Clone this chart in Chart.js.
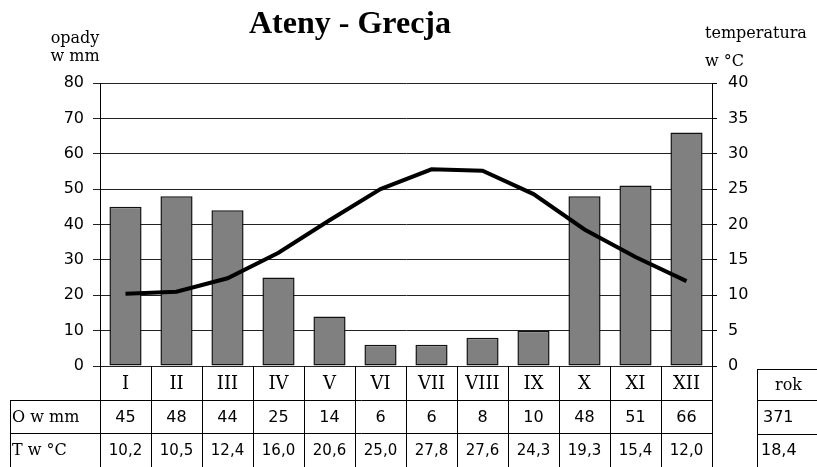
<!DOCTYPE html>
<html>
<head>
<meta charset="utf-8">
<script src="https://cdn.jsdelivr.net/npm/chart.js@4/dist/chart.umd.min.js"></script>
<style>
  body { margin: 0; background: #fff; }
</style>
</head>
<body>
<canvas id="myChart" width="817" height="467"></canvas>
<script>
// months (roman numerals as in the table)
const months = ["I", "II", "III", "IV", "V", "VI", "VII", "VIII", "IX", "X", "XI", "XII"];
// precipitation in mm
const rainfall = [45, 48, 44, 25, 14, 6, 6, 8, 10, 48, 51, 66];
// temperature in °C
const temperature = [10.2, 10.5, 12.4, 16.0, 20.6, 25.0, 27.8, 27.6, 24.3, 19.3, 15.4, 12.0];
// axis ranges
const rainRange = [0, 80, 10];
const tempRange = [0, 40, 5];
// texts
const titleText = "Ateny - Grecja";
const rainTitle = ["opady", "w mm"];
const tempTitle = ["temperatura", "w °C"];
const rowLabels = ["O w mm", "T w °C"];
const yearLabel = "rok";

const serif = "'DejaVu Serif', serif";
const sans = "'DejaVu Sans', sans-serif";

function fmt(num) {
    return num.toFixed(1).replace(".", ",");
}

const yearRain = rainfall.reduce((acc, n) => acc + n, 0);
const yearTemp = temperature.reduce((acc, n) => acc + n, 0) / temperature.length;

//draws the titles and the table under the chart
const tablePlugin = {
    id: "climateTable",
    afterDraw(chart) {
        const ctx = chart.ctx;
        const xScale = chart.scales.x;
        const area = chart.chartArea;
        const colW = (area.right - area.left) / months.length;
        const rows = [area.bottom, area.bottom + 34, area.bottom + 67, chart.height];

        ctx.save();
        ctx.fillStyle = "#000";
        ctx.textBaseline = "alphabetic";

        // title
        ctx.font = "bold 32px 'Liberation Serif', serif";
        ctx.textAlign = "center";
        ctx.fillText(titleText, 350, 33);

        // axis titles
        ctx.font = "16px " + serif;
        ctx.textAlign = "center";
        ctx.fillText(rainTitle[0], 75, 43);
        ctx.fillText(rainTitle[1], 75, 61);
        ctx.textAlign = "left";
        ctx.fillText(tempTitle[0], 705, 38);
        ctx.fillText(tempTitle[1], 705, 66);

        // table lines
        ctx.strokeStyle = "#000";
        ctx.lineWidth = 1;
        ctx.beginPath();
        for (let i = 0; i <= months.length; i++) {
            const x = Math.round(area.left + i * colW) + 0.5;
            ctx.moveTo(x, rows[0]);
            ctx.lineTo(x, rows[3]);
        }
        ctx.moveTo(10.5, rows[1]);
        ctx.lineTo(10.5, rows[3]);
        ctx.moveTo(10, rows[1] + 0.5);
        ctx.lineTo(area.right + 1, rows[1] + 0.5);
        ctx.moveTo(10, rows[2] + 0.5);
        ctx.lineTo(area.right + 1, rows[2] + 0.5);

        // year box
        ctx.moveTo(757.5, rows[0] + 3);
        ctx.lineTo(757.5, rows[3]);
        ctx.moveTo(757, rows[0] + 3.5);
        ctx.lineTo(chart.width, rows[0] + 3.5);
        ctx.moveTo(757, rows[1] + 0.5);
        ctx.lineTo(chart.width, rows[1] + 0.5);
        ctx.moveTo(757, rows[2] + 1.5);
        ctx.lineTo(chart.width, rows[2] + 1.5);
        ctx.stroke();

        // month names
        ctx.textAlign = "center";
        ctx.textBaseline = "middle";
        ctx.font = "18px " + serif;
        months.forEach((m, i) => {
            ctx.fillText(m, xScale.getPixelForValue(i), (rows[0] + rows[1]) / 2 + 1);
        });

        // values
        ctx.font = "16px " + sans;
        rainfall.forEach((v, i) => {
            ctx.fillText(String(v), xScale.getPixelForValue(i), (rows[1] + rows[2]) / 2 + 1);
        });
        ctx.font = "15px " + sans;
        temperature.forEach((v, i) => {
            ctx.fillText(fmt(v), xScale.getPixelForValue(i), (rows[2] + rows[3]) / 2 + 1);
        });

        // row labels
        ctx.textAlign = "left";
        ctx.font = "16px " + serif;
        ctx.fillText(rowLabels[0], 12, (rows[1] + rows[2]) / 2 + 1);
        ctx.fillText(rowLabels[1], 12, (rows[2] + rows[3]) / 2 + 1);

        // year column
        ctx.font = "16px " + serif;
        ctx.fillText(yearLabel, 775, (rows[0] + rows[1]) / 2 + 3);
        ctx.font = "16px " + sans;
        ctx.fillText(String(yearRain), 763, (rows[1] + rows[2]) / 2 + 1);
        ctx.fillText(fmt(yearTemp), 761, (rows[2] + rows[3]) / 2 + 1);

        ctx.restore();
    }
};

const ctx = document.getElementById("myChart");

const myChart = new Chart(ctx, {
    type: "bar",
    data: {
        labels: months,
        datasets: [{
            type: "line",
            label: "temperatura",
            data: temperature,
            yAxisID: "yT",
            borderColor: "#000",
            borderWidth: 4,
            pointRadius: 0,
            tension: 0,
            fill: false,
            order: 0
        }, {
            type: "bar",
            label: "opady",
            data: rainfall,
            yAxisID: "yR",
            backgroundColor: "#808080",
            borderColor: "#111",
            borderWidth: 1.5,
            borderSkipped: false,
            barPercentage: 0.63,
            categoryPercentage: 1,
            order: 1
        }]
    },
    options: {
        responsive: false,
        animation: false,
        devicePixelRatio: 1,
        layout: {
            padding: { top: 83, bottom: 101, left: 0, right: 0 }
        },
        plugins: {
            legend: { display: false },
            tooltip: { enabled: false },
            title: { display: false }
        },
        scales: {
            x: {
                display: false
            },
            yR: {
                position: "left",
                min: rainRange[0],
                max: rainRange[1],
                afterFit: scale => { scale.width = 100; },
                ticks: {
                    stepSize: rainRange[2],
                    color: "#000",
                    padding: 9,
                    font: { family: "DejaVu Sans", size: 16 }
                },
                grid: {
                    color: "#222",
                    lineWidth: 1,
                    tickLength: 7,
                    drawTicks: true
                },
                border: { color: "#000", width: 1 }
            },
            yT: {
                position: "right",
                min: tempRange[0],
                max: tempRange[1],
                afterFit: scale => { scale.width = 105; },
                ticks: {
                    stepSize: tempRange[2],
                    color: "#000",
                    padding: 11,
                    font: { family: "DejaVu Sans", size: 16 }
                },
                grid: {
                    drawOnChartArea: false,
                    color: "#000",
                    tickLength: 5
                },
                border: { color: "#000", width: 1 }
            }
        }
    },
    plugins: [tablePlugin]
});
</script>
</body>
</html>
